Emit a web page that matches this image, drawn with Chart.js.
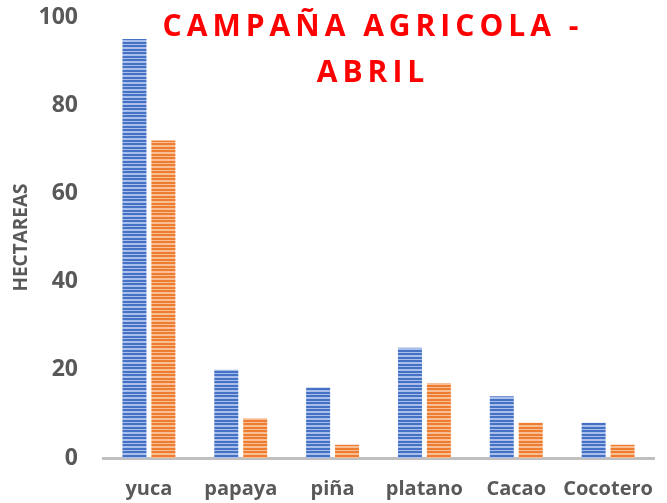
<!DOCTYPE html>
<html>
<head>
<meta charset="utf-8">
<script src="https://cdn.jsdelivr.net/npm/chart.js@4.4.1/dist/chart.umd.min.js"></script>
<style>
    html, body { margin: 0; padding: 0; background: #fff; }
    #wrap { width: 667px; height: 503px; }
</style>
</head>
<body>
<div id="wrap"><canvas id="cropChart"></canvas></div>
<script>
const categories = ['yuca', 'papaya', 'piña', 'platano', 'Cacao', 'Cocotero'];
const seriesBlue = [95, 20, 16, 25, 14, 8];
const seriesOrange = [72, 9, 3, 17, 8, 3];
const yTicks = [0, 20, 40, 60, 80, 100];
const titleLines = ['CAMPAÑA AGRICOLA -', 'ABRIL'];
const axisTitle = 'HECTAREAS';

// striped fill like the office "narrow horizontal" pattern
function stripePattern(dark, light) {
    const c = document.createElement('canvas');
    c.width = 4;
    c.height = 7;
    const g = c.getContext('2d');
    const rows = [dark, dark, light, dark, dark, light, light];
    rows.forEach((col, i) => {
        g.fillStyle = col;
        g.fillRect(0, i, 4, 1);
    });
    return g.createPattern(c, 'repeat');
}

const blueFill = stripePattern('#4672C6', '#A9BEEA');
const orangeFill = stripePattern('#EE7D31', '#F8BE96');

// red title drawn over the plot, with letter spacing
const titlePlugin = {
    id: 'spacedTitle',
    afterDraw(chart) {
        const ctx = chart.ctx;
        ctx.save();
        ctx.font = 'bold 30px "Open Sans"';
        ctx.fillStyle = '#FF0000';
        ctx.textAlign = 'center';
        ctx.textBaseline = 'alphabetic';
        ctx.letterSpacing = '5px';
        ctx.fillText(titleLines[0], 373, 36);
        ctx.fillText(titleLines[1], 373, 82);
        ctx.restore();
    }
};

const ctx = document.getElementById('cropChart');
new Chart(ctx, {
    type: 'bar',
    data: {
        labels: categories,
        datasets: [{
            label: 'Serie 1',
            data: seriesBlue,
            backgroundColor: blueFill,
            borderWidth: 0
        }, {
            label: 'Serie 2',
            data: seriesOrange,
            backgroundColor: orangeFill,
            borderWidth: 0
        }]
    },
    options: {
        responsive: true,
        maintainAspectRatio: false,
        animation: false,
        categoryPercentage: 0.63,
        barPercentage: 0.83,
        layout: {
            padding: { top: 17, right: 13, left: 0, bottom: 0 }
        },
        plugins: {
            legend: { display: false },
            title: { display: false },
            tooltip: { enabled: false }
        },
        scales: {
            x: {
                grid: { display: false, drawTicks: false },
                border: { display: true, color: '#BFBFBF', width: 3 },
                ticks: {
                    color: '#595959',
                    padding: 19,
                    autoSkip: false,
                    maxRotation: 0,
                    minRotation: 0,
                    font: { family: 'Open Sans', size: 20, weight: 'bold' }
                },
                afterFit(scale) {
                    scale.height = 45;
                    scale.paddingLeft = 0;
                    scale.paddingRight = 0;
                }
            },
            y: {
                min: 0,
                max: 100,
                grid: { display: false, drawTicks: false },
                border: { display: false },
                afterBuildTicks(scale) {
                    scale.ticks = yTicks.map(v => ({ value: v }));
                },
                ticks: {
                    color: '#595959',
                    padding: 25,
                    font: { family: 'Open Sans', size: 23, weight: 'bold' }
                },
                title: {
                    display: true,
                    text: axisTitle,
                    color: '#595959',
                    padding: { top: 10, bottom: 0 },
                    font: { family: 'Open Sans', size: 19, weight: 'bold' }
                },
                afterFit(scale) {
                    scale.width = 103;
                    scale.paddingTop = 0;
                    scale.paddingBottom = 0;
                }
            }
        }
    },
    plugins: [titlePlugin]
});
</script>
</body>
</html>
